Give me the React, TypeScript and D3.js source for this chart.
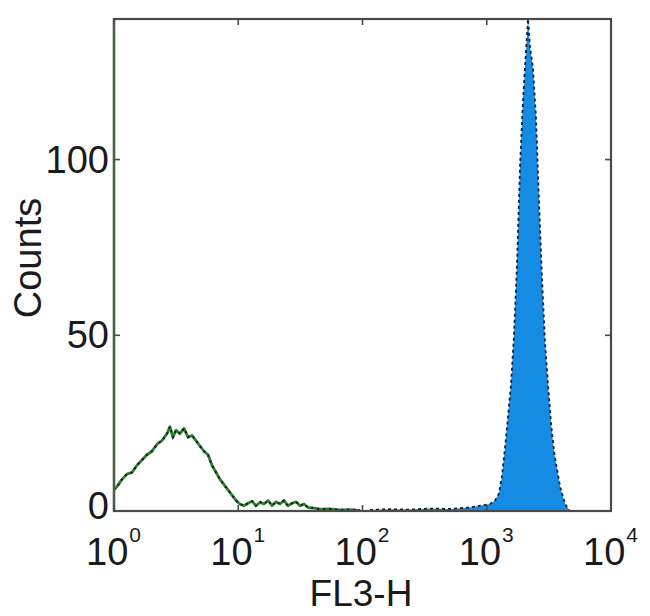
import React from "react";
import * as d3 from "d3";

// FL3-H values (channel positions) and counts
const controlX = [1.0, 1.06, 1.16, 1.27, 1.4, 1.53, 1.68, 1.84, 2.02, 2.22, 2.43, 2.67, 2.82, 2.98, 3.16, 3.4, 3.66, 3.94, 4.24, 4.57, 4.92, 5.3, 5.71, 6.15, 6.62, 7.13, 7.68, 8.27, 8.91, 9.59, 10.3, 11.1, 12.0, 12.9, 13.9, 15.0, 16.1, 17.4, 18.7, 20.1, 21.7, 23.3, 25.1, 27.1, 29.2, 31.4, 33.8, 36.4, 40.7, 45.5, 54.7, 65.9, 79.3, 95.5];
const controlY = [6, 7, 9, 10.5, 11, 13, 14.5, 16, 17, 19, 20, 22, 24, 21, 23, 22, 23.5, 21, 21.5, 20, 18.5, 17, 16, 13, 11, 9, 7.5, 6, 4.5, 3, 2, 1.5, 2.2, 2.8, 1.5, 2.5, 2, 3, 1.5, 2.6, 2, 3, 1.5, 2.2, 2.6, 1.5, 2, 1, 0.8, 0.5, 0.6, 0.3, 0.4, 0.2];

const stainedX = [115, 166, 241, 349, 506, 733, 883, 1062, 1165, 1255, 1327, 1403, 1483, 1567, 1657, 1751, 1852, 1958, 2070, 2148, 2229, 2356, 2490, 2635, 2785, 2944, 3112, 3290, 3478, 3675, 3890, 4110, 4345, 4677];
const stainedY = [0.3, 0.5, 0.4, 0.7, 0.6, 1.0, 1.5, 2, 3, 5, 10, 18, 27, 36, 50, 70, 98, 117, 131, 140, 132, 126, 112, 88, 66, 48, 36, 25, 17, 12, 7, 4, 1.5, 0];

const xTickExps = [0, 1, 2, 3, 4];
const yTicks = [0, 50, 100];
const xLabel = "FL3-H";
const yLabel = "Counts";

const W = 650, H = 616;
const L = 114, R = 611, T = 19, B = 511;

export default function App() {
  const x = d3.scaleLog().domain([1, 10000]).range([L, R]);
  const y = d3.scaleLinear().domain([0, 140]).range([B, T]);

  const control = controlX.map((v, i) => [v, controlY[i]] as [number, number]);
  const stained = stainedX.map((v, i) => [v, stainedY[i]] as [number, number]);

  const line = d3.line<[number, number]>().x(d => x(d[0])).y(d => y(d[1]));
  const area = d3.area<[number, number]>().x(d => x(d[0])).y0(y(0)).y1(d => y(d[1]));

  const font = "'Liberation Sans', Arial, sans-serif";
  const axisColor = "#4a4a4a";
  const textColor = "#1a1a1a";

  return (
    <svg width={W} height={H} style={{ position: "absolute", left: 0, top: 0, background: "#fff" }} fontFamily={font}>
      <rect x={0} y={0} width={W} height={H} fill="#fff" />
      {/* stained histogram */}
      <path d={area(stained) || ""} fill="#168be4" />
      <path d={line(stained) || ""} fill="none" stroke="#0d2238" strokeWidth={1.8} strokeDasharray="3,3" />
      {/* control histogram */}
      <path d={line(control) || ""} fill="none" stroke="#2f7d32" strokeWidth={2.8} strokeLinejoin="round" />
      <path d={line(control) || ""} fill="none" stroke="#0a1f0a" strokeWidth={2} strokeDasharray="2,4" />

      {/* box */}
      <rect x={L} y={T} width={R - L} height={B - T} fill="none" stroke={axisColor} strokeWidth={2.2} />
      <line x1={L} x2={L} y1={T} y2={B} stroke="#4b5e4b" strokeWidth={2.4} />

      {/* x ticks */}
      {xTickExps.map(e => {
        const px = x(Math.pow(10, e));
        return (
          <g key={"x" + e}>
            <line x1={px} x2={px} y1={B} y2={B - 6} stroke={axisColor} strokeWidth={1.6} />
            <line x1={px} x2={px} y1={T} y2={T + 6} stroke={axisColor} strokeWidth={1.6} />
            <text x={px - 28} y={565} fontSize={38} fill={textColor}>
              10
              <tspan fontSize={21} dy={-23} dx={1}>{e}</tspan>
            </text>
          </g>
        );
      })}

      {/* y ticks */}
      {yTicks.map(t => {
        const py = y(t);
        return (
          <g key={"y" + t}>
            <line x1={L} x2={L + 6} y1={py} y2={py} stroke={axisColor} strokeWidth={1.6} />
            <line x1={R} x2={R - 6} y1={py} y2={py} stroke={axisColor} strokeWidth={1.6} />
            <text x={109} y={t === 0 ? py - 5 : py} fontSize={38} fill={textColor} textAnchor="end" dominantBaseline="central">
              {t}
            </text>
          </g>
        );
      })}

      <text x={361} y={606} fontSize={37} fill={textColor} textAnchor="middle">{xLabel}</text>
      <text transform="translate(41,258) rotate(-90)" fontSize={38} fill={textColor} textAnchor="middle">{yLabel}</text>
    </svg>
  );
}
